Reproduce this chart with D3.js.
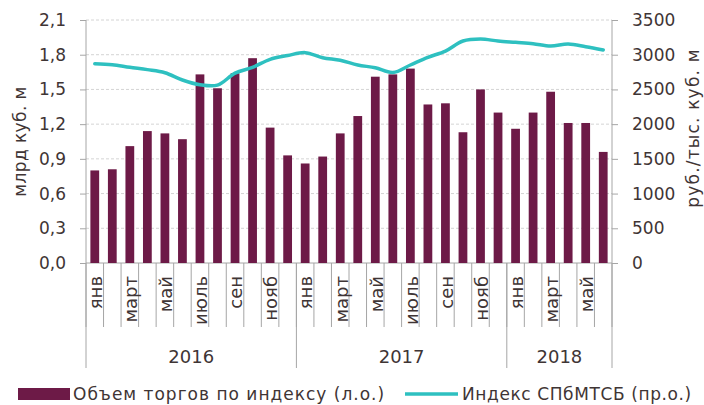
<!DOCTYPE html>
<html>
<head>
<meta charset="utf-8">
<script src="https://cdn.jsdelivr.net/npm/d3@7"></script>
<style>
  body { margin: 0; background: #fff; }
  text { font-family: "DejaVu Sans", sans-serif; fill: #3f3535; }
</style>
</head>
<body>
<div id="chart"></div>
<script>
const years = ["2016", "2017", "2018"];
const monthsPerYear = [12, 12, 6];
const monthNames = ["янв", "фев", "март", "апр", "май", "июнь", "июль", "авг", "сен", "окт", "нояб", "дек"];

// объем торгов, млрд куб. м (л.о.)
const volume = [0.80, 0.81, 1.01, 1.14, 1.12, 1.07, 1.63, 1.51, 1.64, 1.77, 1.17, 0.93,
                0.86, 0.92, 1.12, 1.27, 1.61, 1.63, 1.68, 1.37, 1.38, 1.13, 1.50, 1.30,
                1.16, 1.30, 1.48, 1.21, 1.21, 0.96];
// индекс СПбМТСБ, руб./тыс. куб. м (пр.о.)
const index = [2870, 2856, 2818, 2785, 2741, 2636, 2568, 2562, 2735, 2818, 2934, 2988,
               3030, 2957, 2920, 2852, 2812, 2744, 2852, 2962, 3052, 3197, 3226, 3197,
               3178, 3159, 3125, 3154, 3115, 3068];

const leftTicks = [0, 0.3, 0.6, 0.9, 1.2, 1.5, 1.8, 2.1];
const rightTicks = [0, 500, 1000, 1500, 2000, 2500, 3000, 3500];

const barColor = "#6d1a47";
const lineColor = "#2ec0c0";
const axisColor = "#a6a6a6";

// список месяцев
const months = [];
years.forEach((y, yi) => {
    for (let m = 0; m < monthsPerYear[yi]; m++) {
        months.push({ key: y + "-" + m, year: y, name: monthNames[m], m: m });
    }
});
const data = months.map((d, i) => ({ ...d, volume: volume[i], index: index[i] }));

const width = 704, height = 405;
const plotLeft = 86, plotRight = 612, plotTop = 20, plotBottom = 263;

const svg = d3.select("#chart").append("svg")
    .attr("width", width)
    .attr("height", height);

const x = d3.scaleBand()
    .domain(data.map(d => d.key))
    .range([plotLeft, plotRight])
    .paddingInner(0.5)
    .paddingOuter(0.25);

const yL = d3.scaleLinear().domain([0, 2.1]).range([plotBottom, plotTop]);
const yR = d3.scaleLinear().domain([0, 3500]).range([plotBottom, plotTop]);

// сетка
svg.append("g")
    .selectAll("line")
    .data(leftTicks.slice(1))
    .enter()
    .append("line")
    .attr("x1", plotLeft).attr("x2", plotRight)
    .attr("y1", d => yL(d)).attr("y2", d => yL(d))
    .attr("stroke", "#d4d4d4")
    .attr("stroke-dasharray", "3,2");

// левая ось
const leftAxis = svg.append("g")
    .attr("transform", `translate(${plotLeft},0)`)
    .call(d3.axisLeft(yL).tickValues(leftTicks).tickSize(6).tickPadding(14)
        .tickFormat(d => d3.format(".1f")(d).replace(".", ",")));
leftAxis.select(".domain").attr("stroke", axisColor).attr("d", `M0,${plotTop}V${plotBottom}`);
leftAxis.selectAll(".tick line").attr("stroke", axisColor);
leftAxis.selectAll("text").style("font-size", "17px").style("font-family", "DejaVu Sans").attr("fill", "#3f3535");

// правая ось
const rightAxis = svg.append("g")
    .attr("transform", `translate(${plotRight},0)`)
    .call(d3.axisRight(yR).tickValues(rightTicks).tickSize(6).tickPadding(14)
        .tickFormat(d3.format("d")));
rightAxis.select(".domain").attr("stroke", axisColor).attr("d", `M0,${plotTop}V${plotBottom}`);
rightAxis.selectAll(".tick line").attr("stroke", axisColor);
rightAxis.selectAll("text").style("font-size", "17px").style("font-family", "DejaVu Sans").attr("fill", "#3f3535");

// базовая линия
svg.append("line")
    .attr("x1", plotLeft).attr("x2", plotRight)
    .attr("y1", plotBottom).attr("y2", plotBottom)
    .attr("stroke", axisColor);

// столбцы
svg.selectAll("rect.bar")
    .data(data)
    .enter()
    .append("rect")
    .attr("class", "bar")
    .attr("x", d => x(d.key))
    .attr("y", d => yL(d.volume))
    .attr("width", x.bandwidth())
    .attr("height", d => plotBottom - yL(d.volume))
    .attr("fill", barColor);

// линия индекса
const cx = d => x(d.key) + x.bandwidth() / 2;
const line = d3.line()
    .x(cx)
    .y(d => yR(d.index))
    .curve(d3.curveCatmullRom.alpha(0.5));

svg.append("path")
    .datum(data)
    .attr("d", line)
    .attr("fill", "none")
    .attr("stroke", lineColor)
    .attr("stroke-width", 3.5)
    .attr("stroke-linecap", "round");

// ось категорий: месяцы
const step = x.step();
const monthTicks = d3.range(data.length + 1).map(i => plotLeft + i * step);
svg.append("g")
    .selectAll("line")
    .data(monthTicks)
    .enter()
    .append("line")
    .attr("x1", d => d).attr("x2", d => d)
    .attr("y1", plotBottom).attr("y2", 327)
    .attr("stroke", axisColor);

svg.append("g")
    .selectAll("text")
    .data(data.filter(d => d.m % 2 === 0))
    .enter()
    .append("text")
    .attr("transform", d => `translate(${cx(d) + 1},276) rotate(-90)`)
    .attr("text-anchor", "end")
    .attr("dy", "0.35em")
    .style("font-size", "18px")
    .text(d => d.name);

// ось категорий: годы
let start = 0;
const yearSpans = years.map((y, yi) => {
    const s = { year: y, x0: plotLeft + start * step, x1: plotLeft + (start + monthsPerYear[yi]) * step };
    start += monthsPerYear[yi];
    return s;
});
const yearLines = [yearSpans[0].x0].concat(yearSpans.map(s => s.x1));
svg.append("g")
    .selectAll("line")
    .data(yearLines)
    .enter()
    .append("line")
    .attr("x1", d => d).attr("x2", d => d)
    .attr("y1", plotBottom).attr("y2", 368)
    .attr("stroke", axisColor);

svg.append("g")
    .selectAll("text")
    .data(yearSpans)
    .enter()
    .append("text")
    .attr("x", d => (d.x0 + d.x1) / 2)
    .attr("y", 363)
    .attr("text-anchor", "middle")
    .style("font-size", "18px")
    .text(d => d.year);

// подписи осей
svg.append("text")
    .attr("transform", `translate(20,${(plotTop + plotBottom) / 2}) rotate(-90)`)
    .attr("text-anchor", "middle")
    .attr("dy", "0.35em")
    .style("font-size", "17px")
    .style("letter-spacing", "0.4px")
    .text("млрд куб. м");

svg.append("text")
    .attr("transform", `translate(693,128) rotate(-90)`)
    .attr("text-anchor", "middle")
    .attr("dy", "0.35em")
    .style("font-size", "17px")
    .style("letter-spacing", "1.2px")
    .text("руб./тыс. куб. м");

// легенда
const legend = svg.append("g").attr("transform", "translate(0,394)");
legend.append("rect")
    .attr("x", 18).attr("y", -6)
    .attr("width", 52).attr("height", 12)
    .attr("fill", barColor);
legend.append("text")
    .attr("x", 73).attr("dy", "0.35em")
    .style("font-size", "17px")
    .style("letter-spacing", "1px")
    .text("Объем торгов по индексу (л.о.)");
legend.append("line")
    .attr("x1", 405).attr("x2", 458)
    .attr("stroke", lineColor)
    .attr("stroke-width", 3.5);
legend.append("text")
    .attr("x", 462).attr("dy", "0.35em")
    .style("font-size", "17px")
    .style("letter-spacing", "0.6px")
    .text("Индекс СПбМТСБ (пр.о.)");
</script>
</body>
</html>
